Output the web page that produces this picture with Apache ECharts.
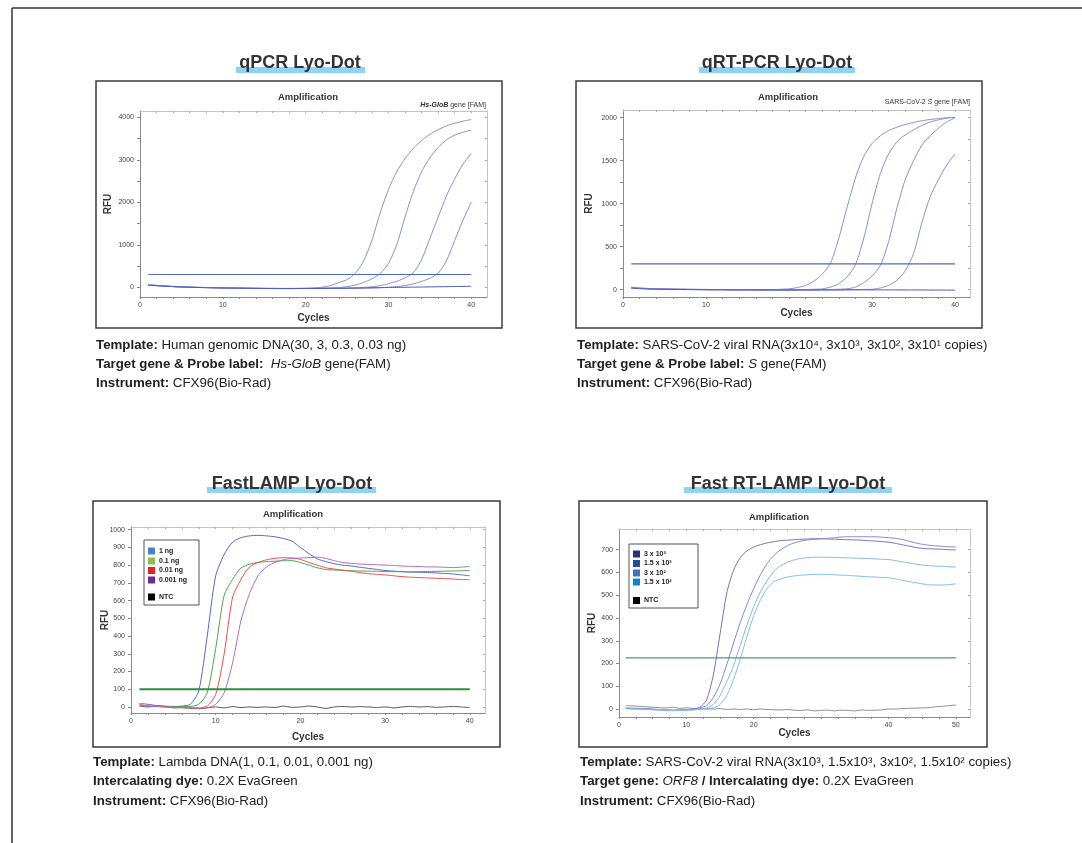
<!DOCTYPE html>
<html><head><meta charset="utf-8">
<script src="https://cdn.jsdelivr.net/npm/echarts@6/dist/echarts.min.js"></script>
<style>html,body{margin:0;padding:0;background:#fff}#c{width:1082px;height:843px}</style>
</head><body><div id="c"></div>
<script>
// ---------- DATA ----------
const cyc40 = [1,2,3,4,5,6,7,8,9,10,11,12,13,14,15,16,17,18,19,20,21,22,23,24,25,26,27,28,29,30,31,32,33,34,35,36,37,38,39,40];
const cyc50 = [1,2,3,4,5,6,7,8,9,10,11,12,13,14,15,16,17,18,19,20,21,22,23,24,25,26,27,28,29,30,31,32,33,34,35,36,37,38,39,40,41,42,43,44,45,46,47,48,49,50];

// qPCR Lyo-Dot (Hs-GloB, 30 / 3 / 0.3 / 0.03 ng)
const qpcrA = [60,45,30,18,10,3,-2,-6,-10,-13,-16,-19,-22,-24,-26,-27,-28,-28,-27,-25,-18,0,40,110,180,330,620,1100,1750,2300,2720,3030,3270,3450,3600,3710,3800,3860,3910,3950];
const qpcrB = [55,42,28,17,9,2,-3,-7,-11,-14,-17,-20,-23,-25,-27,-28,-29,-29,-28,-27,-24,-20,-15,-5,15,50,110,200,320,560,1000,1650,2250,2720,3050,3290,3470,3580,3650,3700];
const qpcrC = [50,40,27,16,8,1,-4,-8,-12,-15,-18,-21,-24,-26,-28,-29,-30,-30,-29,-28,-27,-26,-24,-22,-20,-15,-5,10,40,80,140,220,340,650,1150,1650,2150,2550,2900,3150];
const qpcrD = [48,38,26,15,7,0,-5,-9,-13,-16,-19,-22,-25,-27,-29,-30,-31,-31,-30,-29,-28,-27,-26,-25,-24,-22,-20,-16,-10,0,15,40,80,140,210,330,620,1100,1580,2000];
const qpcrNTC = [45,36,25,14,6,-1,-6,-10,-14,-17,-20,-23,-26,-28,-30,-31,-32,-32,-31,-30,-29,-28,-27,-25,-23,-20,-17,-14,-10,-7,-4,-1,2,5,8,11,14,17,20,22];
const qpcrThreshold = 300;

// qRT-PCR Lyo-Dot (SARS-CoV-2 S gene)
const qrtA = [30,20,15,12,10,8,6,5,4,3,2,2,1,1,0,0,0,0,5,10,25,50,100,180,310,600,960,1300,1550,1700,1790,1850,1890,1920,1945,1965,1980,1990,2000,2005];
const qrtB = [25,18,13,10,8,6,5,4,3,2,1,1,0,0,-1,-1,-2,-2,-2,-1,0,2,5,10,30,70,150,290,600,1000,1350,1580,1720,1800,1860,1910,1950,1975,1995,2005];
const qrtC = [22,16,12,9,7,5,4,3,2,1,0,0,-1,-1,-2,-2,-3,-3,-3,-3,-2,-2,-1,0,2,5,10,30,80,160,280,560,950,1280,1500,1680,1790,1880,1950,2000];
const qrtD = [20,15,11,8,6,4,3,2,1,0,-1,-1,-2,-2,-3,-3,-3,-4,-4,-4,-4,-3,-3,-2,-2,-1,0,1,3,5,20,50,110,220,420,780,1080,1280,1450,1580];
const qrtNTC = [18,12,8,6,4,3,2,1,0,0,-1,-1,-2,-2,-2,-3,-3,-3,-3,-3,-3,-3,-3,-3,-3,-3,-2,-2,-2,-2,-2,-2,-2,-3,-3,-3,-4,-4,-5,-5];
const qrtThreshold = 300;

// FastLAMP Lyo-Dot (Lambda DNA)
const lampNames = ['1 ng','0.1 ng','0.01 ng','0.001 ng','NTC'];
const lamp1 = [20,15,8,5,3,5,15,90,400,740,860,930,955,965,968,965,960,950,935,900,865,835,820,808,800,795,788,782,776,770,766,763,761,760,758,756,753,750,745,740];
const lamp01 = [10,5,3,2,0,2,3,15,80,330,630,720,785,805,815,820,822,825,825,815,800,785,775,772,770,768,767,766,765,764,763,763,762,763,764,765,766,767,768,770];
const lamp001 = [15,5,3,0,-2,-3,-4,-5,5,70,300,620,720,790,815,830,838,842,840,832,815,800,785,778,772,766,758,752,748,745,740,735,732,730,728,726,724,722,719,718];
const lamp0001 = [10,6,3,0,-3,-5,-6,-7,-5,15,80,250,490,640,740,790,815,830,838,840,843,845,838,825,815,810,806,804,802,800,798,795,793,792,790,790,788,786,789,792];
const lampNTC = [5,0,5,3,-5,-3,-8,-10,-5,0,-5,2,-3,0,-2,0,-3,5,-2,0,5,0,-8,0,3,0,2,0,-3,0,-5,0,3,0,2,-2,0,3,0,-3];
const lampThreshold = 100;

// Fast RT-LAMP Lyo-Dot (SARS-CoV-2 ORF8)
const rtlNames = ['3 x 10\u00b3','1.5 x 10\u00b3','3 x 10\u00b2','1.5 x 10\u00b2','NTC'];
const rtl1 = [5,4,3,2,0,-2,-3,-5,-4,-3,0,8,40,150,330,510,610,665,695,712,722,730,735,740,742,744,746,747,748,748,747,746,745,744,743,742,740,738,736,733,728,722,716,710,706,704,703,702,700,699];
const rtl2 = [3,2,1,0,-2,-4,-5,-6,-5,-4,-2,5,15,50,110,195,290,380,460,530,590,640,675,700,718,730,738,743,746,748,750,753,756,757,757,757,757,757,755,753,750,745,738,730,724,720,717,715,713,712];
const rtl3 = [2,1,0,-1,-3,-4,-5,-6,-6,-5,-3,0,5,20,60,120,190,280,370,450,515,565,605,630,645,655,662,665,667,667,667,666,665,664,663,662,661,660,658,657,652,647,642,637,633,630,628,627,625,624];
const rtl4 = [1,0,-1,-2,-3,-4,-5,-6,-6,-5,-4,-2,2,5,20,60,130,220,320,410,480,530,560,572,580,585,588,590,592,592,591,590,588,587,585,583,581,580,578,577,572,566,560,555,550,546,545,545,547,550];
const rtlNTC = [15,14,12,10,8,6,5,8,3,5,3,2,0,0,2,-2,0,-2,0,-3,0,-2,-3,-4,-2,-5,-6,-4,-8,-6,-5,-8,-5,-6,-8,-4,-6,-5,-4,0,0,2,3,4,5,6,10,12,15,18];
const rtlThreshold = 225;

// tick labels
const xLabels1 = [0,10,20,30,40];
const xLabels2 = [0,10,30,40];
const xLabels3 = [0,10,20,30,40];
const xLabels4 = [0,10,20,40,50];
const xTicks40 = [0,2,4,6,8,10,12,14,16,18,20,22,24,26,28,30,32,34,36,38,40];
const xTicks50 = [0,2.5,5,7.5,10,12.5,15,17.5,20,22.5,25,27.5,30,32.5,35,37.5,40,42.5,45,47.5,50];
const yLabels1 = [0,1000,2000,3000,4000];
const yLabels2 = [0,500,1000,1500,2000];
const yLabels3 = [0,100,200,300,400,500,600,700,800,900,1000];
const yLabels4 = [0,100,200,300,400,500,600,700];
const yTicks1 = [0,500,1000,1500,2000,2500,3000,3500,4000];
const yTicks2 = [0,250,500,750,1000,1250,1500,1750,2000];

// ---------- CHART ----------
const FF = '"Liberation Sans", Arial, sans-serif';
const pair = (xs, ys) => ys.map((v, i) => [xs[i], v]);
const plain = v => String(v);

const panels = [
  {grid:{left:140, top:111, width:347, height:186}, xmax:41.9, ymin:-230, ymax:4150, xl:xLabels1, xt:xTicks40, yl:yLabels1, yt:yTicks1, xGap:16, yGap:27},
  {grid:{left:623, top:110, width:347, height:187}, xmax:41.8, ymin:-85, ymax:2090, xl:xLabels2, xt:xTicks40, yl:yLabels2, yt:yTicks2, xGap:11, yGap:29},
  {grid:{left:131, top:527, width:354, height:186}, xmax:41.8, ymin:-34, ymax:1015, xl:xLabels3, xt:xTicks40, yl:yLabels3, yt:yLabels3, xGap:19, yGap:21},
  {grid:{left:619, top:529, width:351, height:188}, xmax:52.1, ymin:-35, ymax:791, xl:xLabels4, xt:xTicks50, yl:yLabels4, yt:yLabels4, xGap:11, yGap:22}
];

const grids = [], xAxes = [], yAxes = [];
panels.forEach((p, i) => {
  grids.push(Object.assign({containLabel:false}, p.grid));
  xAxes[i] = {type:'value', gridIndex:i, min:0, max:p.xmax, position:'bottom', splitLine:{show:false},
    axisLine:{show:true, onZero:false, lineStyle:{color:'#8a8a8a', width:1}},
    axisTick:{show:true, customValues:p.xt, length:2, lineStyle:{color:'#8a8a8a'}},
    axisLabel:{customValues:p.xl, formatter:plain, fontSize:7, color:'#444', margin:5, fontFamily:FF},
    name:'Cycles', nameLocation:'middle', nameGap:p.xGap, nameMoveOverlap:false,
    nameTextStyle:{fontWeight:'bold', fontSize:10, color:'#333', fontFamily:FF}};
  xAxes[i+4] = {type:'value', gridIndex:i, min:0, max:p.xmax, position:'top', splitLine:{show:false},
    axisLine:{show:true, onZero:false, lineStyle:{color:'#c4c4c4', width:1}},
    axisTick:{show:true, inside:true, customValues:p.xt, length:2, lineStyle:{color:'#aaa'}},
    axisLabel:{show:false}};
  yAxes[i] = {type:'value', gridIndex:i, min:p.ymin, max:p.ymax, position:'left', splitLine:{show:false},
    axisLine:{show:true, onZero:false, lineStyle:{color:'#8a8a8a', width:1}},
    axisTick:{show:true, customValues:p.yt, length:3, lineStyle:{color:'#8a8a8a'}},
    axisLabel:{customValues:p.yl, formatter:plain, fontSize:7, color:'#444', margin:6, fontFamily:FF},
    name:'RFU', nameLocation:'middle', nameGap:p.yGap, nameMoveOverlap:false,
    nameTextStyle:{fontWeight:'bold', fontSize:10, color:'#333', fontFamily:FF}};
  yAxes[i+4] = {type:'value', gridIndex:i, min:p.ymin, max:p.ymax, position:'right', splitLine:{show:false},
    axisLine:{show:true, onZero:false, lineStyle:{color:'#c4c4c4', width:1}},
    axisTick:{show:true, inside:true, customValues:p.yt, length:2, lineStyle:{color:'#aaa'}},
    axisLabel:{show:false}};
});

function line(gi, name, xs, ys, color, width) {
  return {type:'line', name, xAxisIndex:gi, yAxisIndex:gi, data:pair(xs, ys), symbol:'none',
    smooth:0.25, lineStyle:{color, width:width||1}, silent:true, z:3};
}
function thr(gi, x0, x1, v, color, width) {
  return {type:'line', name:'Threshold', xAxisIndex:gi, yAxisIndex:gi, data:[[x0,v],[x1,v]],
    symbol:'none', lineStyle:{color, width}, silent:true, z:4};
}

const series = [
  line(0,'30 ng',cyc40,qpcrA,'#8a8fd6'),
  line(0,'3 ng',cyc40,qpcrB,'#8a8fd6'),
  line(0,'0.3 ng',cyc40,qpcrC,'#8a8fd6'),
  line(0,'0.03 ng',cyc40,qpcrD,'#8a8fd6'),
  line(0,'NTC',cyc40,qpcrNTC,'#4a58b0'),
  thr(0,1,40,qpcrThreshold,'#4d6cb5',1.2),

  line(1,'3x10^4',cyc40,qrtA,'#8a8fd6'),
  line(1,'3x10^3',cyc40,qrtB,'#8a8fd6'),
  line(1,'3x10^2',cyc40,qrtC,'#8a8fd6'),
  line(1,'3x10^1',cyc40,qrtD,'#8a8fd6'),
  line(1,'NTC',cyc40,qrtNTC,'#4a58b0'),
  thr(1,1,40,qrtThreshold,'#4d6cb5',1.2),

  line(2,lampNames[4],cyc40,lampNTC,'#555555'),
  line(2,lampNames[0],cyc40,lamp1,'#5a66c8'),
  line(2,lampNames[1],cyc40,lamp01,'#4aa84c'),
  line(2,lampNames[2],cyc40,lamp001,'#ef4d4d'),
  line(2,lampNames[3],cyc40,lamp0001,'#b46ac8'),
  thr(2,1,40,lampThreshold,'#2f8f3c',2),

  line(3,rtlNames[4],cyc50,rtlNTC,'#8c8c8c'),
  line(3,rtlNames[0],cyc50,rtl1,'#7270c2'),
  line(3,rtlNames[1],cyc50,rtl2,'#8388d2'),
  line(3,rtlNames[2],cyc50,rtl3,'#8ab6e2'),
  line(3,rtlNames[3],cyc50,rtl4,'#7cc0e8'),
  thr(3,1,50,rtlThreshold,'#4f9a68',1.2)
];

// ---------- GRAPHIC (frames, titles, captions, legends) ----------
const G = [];
G.push({type:'line', shape:{x1:12,y1:8,x2:12,y2:843}, style:{stroke:'#333', lineWidth:1.5}});
G.push({type:'line', shape:{x1:12,y1:8,x2:1082,y2:8}, style:{stroke:'#333', lineWidth:1.5}});

const boxes = [[96,81,406,247],[576,81,406,247],[93,501,407,246],[579,501,408,246]];
boxes.forEach(b => G.push({type:'rect', shape:{x:b[0],y:b[1],width:b[2],height:b[3]}, style:{fill:'none', stroke:'#3a3a3a', lineWidth:1.5}, z:1}));

const titles = [
  {t:'qPCR Lyo-Dot', cx:300, cy:63, hx:236, hw:129, hy:67},
  {t:'qRT-PCR Lyo-Dot', cx:777, cy:63, hx:699, hw:156, hy:67},
  {t:'FastLAMP Lyo-Dot', cx:292, cy:484, hx:207, hw:169, hy:487},
  {t:'Fast RT-LAMP Lyo-Dot', cx:788, cy:484, hx:684, hw:208, hy:487}
];
titles.forEach(t => {
  G.push({type:'rect', shape:{x:t.hx, y:t.hy, width:t.hw, height:6}, style:{fill:'#8fd3f4'}, z:1});
  G.push({type:'text', x:t.cx, y:t.cy, z:2, style:{text:t.t, fontSize:18, fontWeight:'bold', fontFamily:FF, fill:'#333', align:'center', verticalAlign:'middle'}});
});

const amp = [[308,97],[788,97],[293,514],[779,517]];
amp.forEach(a => G.push({type:'text', x:a[0], y:a[1], style:{text:'Amplification', fontSize:9.5, fontWeight:'bold', fontFamily:FF, fill:'#333', align:'center', verticalAlign:'middle'}}));

const small = {fontSize:7, fontFamily:FF, fill:'#333'};
G.push({type:'text', x:486, y:105, style:Object.assign({text:'{bi|Hs-GloB} {n|gene [FAM]}', align:'right', verticalAlign:'middle',
  rich:{bi:{fontSize:7, fontFamily:FF, fontStyle:'italic', fontWeight:'bold', fill:'#333'}, n:{fontSize:7, fontFamily:FF, fill:'#333'}}}, small)});
G.push({type:'text', x:970, y:102, style:Object.assign({text:'{n|SARS-CoV-2} {i|S} {n|gene [FAM]}', align:'right', verticalAlign:'middle',
  rich:{i:{fontSize:7, fontFamily:FF, fontStyle:'italic', fill:'#333'}, n:{fontSize:7, fontFamily:FF, fill:'#333'}}}, small)});

// captions
const CS = 13.3;
const cap = {b:{fontSize:CS, fontFamily:FF, fontWeight:'bold', fill:'#222'}, n:{fontSize:CS, fontFamily:FF, fill:'#222'}, i:{fontSize:CS, fontFamily:FF, fontStyle:'italic', fill:'#222'}};
const captions = [
  [96,345,'{b|Template:}{n| Human genomic DNA(30, 3, 0.3, 0.03 ng)}'],
  [96,364,'{b|Target gene & Probe label:}{n|  }{i|Hs-GloB}{n| gene(FAM)}'],
  [96,383,'{b|Instrument:}{n| CFX96(Bio-Rad)}'],
  [577,345,'{b|Template:}{n| SARS-CoV-2 viral RNA(3x10\u2074, 3x10\u00b3, 3x10\u00b2, 3x10\u00b9 copies)}'],
  [577,364,'{b|Target gene & Probe label:}{n| }{i|S}{n| gene(FAM)}'],
  [577,383,'{b|Instrument:}{n| CFX96(Bio-Rad)}'],
  [93,762,'{b|Template:}{n| Lambda DNA(1, 0.1, 0.01, 0.001 ng)}'],
  [93,781,'{b|Intercalating dye:}{n| 0.2X EvaGreen}'],
  [93,801,'{b|Instrument:}{n| CFX96(Bio-Rad)}'],
  [580,762,'{b|Template:}{n| SARS-CoV-2 viral RNA(3x10\u00b3, 1.5x10\u00b3, 3x10\u00b2, 1.5x10\u00b2 copies)}'],
  [580,781,'{b|Target gene: }{i|ORF8}{b| / Intercalating dye:}{n| 0.2X EvaGreen}'],
  [580,801,'{b|Instrument:}{n| CFX96(Bio-Rad)}']
];
captions.forEach(c => G.push({type:'text', x:c[0], y:c[1], style:{text:c[2], fontSize:CS, fontFamily:FF, fill:'#222', verticalAlign:'middle', rich:cap}}));

// legends
function legend(box, sqx, txx, rows, names, colors) {
  G.push({type:'rect', shape:{x:box[0], y:box[1], width:box[2], height:box[3]}, style:{fill:'#fff', stroke:'#555', lineWidth:1}, z:5});
  rows.forEach((ry, k) => {
    G.push({type:'rect', shape:{x:sqx, y:ry-3.5, width:7, height:7}, style:{fill:colors[k]}, z:6});
    G.push({type:'text', x:txx, y:ry, z:6, style:{text:names[k], fontSize:7, fontWeight:'bold', fontFamily:FF, fill:'#222', verticalAlign:'middle'}});
  });
}
legend([144,540,55,65], 148, 159, [551,561,570.5,580,597], lampNames, ['#4a80c4','#8cc04c','#e42222','#6a2d8e','#000']);
legend([629,544,69,64], 633, 644, [554,563.5,573,582,600.5], rtlNames, ['#26337a','#2b4a9e','#3e74be','#0b86c8','#000']);

const chart = echarts.init(document.getElementById('c'), null, {renderer:'canvas'});
chart.setOption({animation:false, backgroundColor:'#fff', grid:grids, xAxis:xAxes, yAxis:yAxes, series, graphic:{elements:G}});
</script></body></html>
